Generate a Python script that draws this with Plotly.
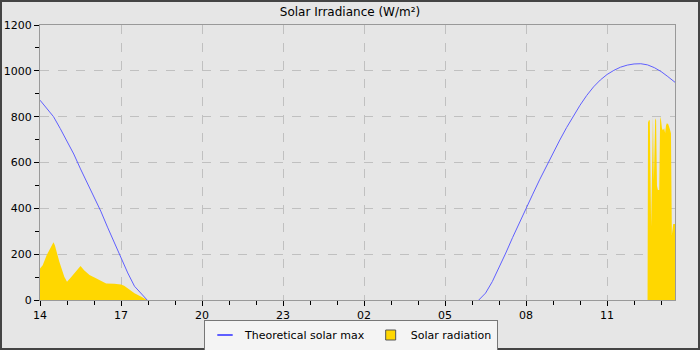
import plotly.graph_objects as go
import pandas as pd

D1 = "2024-06-01 "
D2 = "2024-06-02 "

# Theoretical solar max (W/m²)
theo_times = [D1 + t for t in ["14:00", "14:15", "14:30", "14:45", "15:00", "15:15", "15:30", "15:45",
                               "16:00", "16:15", "16:30", "16:45", "17:00", "17:15", "17:30", "17:45", "17:58"]] + \
             [None] + \
             [D2 + t for t in ["06:15", "06:30", "06:45", "07:00", "07:15", "07:30", "07:45", "08:00",
                               "08:15", "08:30", "08:45", "09:00", "09:15", "09:30", "09:45", "10:00",
                               "10:15", "10:30", "10:45", "11:00", "11:15", "11:30", "11:45", "12:00",
                               "12:15", "12:30", "12:45", "13:00", "13:15", "13:31"]]
theo_values = [872, 838, 800, 748, 695, 637, 572, 511,
               450, 388, 318, 250, 182, 118, 60, 28, 0] + \
              [None] + \
              [0, 30, 80, 140, 205, 272, 337, 400,
               462, 524, 584, 642, 698, 752, 803, 850,
               893, 930, 960, 984, 1002, 1016, 1025, 1030,
               1031, 1026, 1014, 997, 975, 950]

# Measured solar radiation (W/m²)
rad_times = [D1 + t for t in ["14:00", "14:06", "14:15", "14:24", "14:30", "14:33", "14:43", "14:54",
                              "15:00", "15:09", "15:20", "15:30", "15:38", "15:50", "16:00", "16:12",
                              "16:27", "16:45", "17:00", "17:07", "17:15", "17:30", "17:45", "17:58"]] + \
            [D2 + t for t in ["12:30", "12:31", "12:33", "12:35", "12:38", "12:40", "12:42", "12:44",
                              "12:47", "12:49", "12:51", "12:53", "12:56", "12:58", "13:00", "13:02",
                              "13:04", "13:07", "13:09", "13:11", "13:13", "13:16", "13:18", "13:20",
                              "13:22", "13:24", "13:27", "13:29", "13:31"]]
rad_values = [138, 152, 196, 232, 252, 239, 167, 101,
              80, 99, 123, 148, 130, 109, 99, 87,
              72, 71, 68, 62, 51, 29, 14, 0] + \
             [0, 775, 784, 784, 320, 541, 801, 520,
              793, 784, 497, 480, 480, 801, 784, 749,
              741, 749, 729, 762, 771, 767, 758, 743,
              728, 284, 332, 332, 332]

x_range = [D1 + "14:00", D2 + "13:31"]
y_ticks = [0, 200, 400, 600, 800, 1000, 1200]

BLUE = "#5f5fff"
GOLD = "#ffd700"
BG = "#e6e6e6"
FONT = "DejaVu Sans"

fig = go.Figure()
fig.add_trace(go.Scatter(
    x=pd.to_datetime(rad_times), y=rad_values, mode="lines",
    line=dict(color=GOLD, width=0), fill="tozeroy", fillcolor=GOLD,
    showlegend=False, hoverinfo="skip"))
fig.add_trace(go.Scatter(
    x=[pd.Timestamp(t) if t else None for t in theo_times], y=theo_values, mode="lines",
    line=dict(color=BLUE, width=1), connectgaps=False, showlegend=False))
# legend entries
fig.add_trace(go.Scatter(
    x=[None], y=[None], mode="markers", name="Theoretical solar max",
    marker=dict(symbol="line-ew", size=11, line=dict(color=BLUE, width=2))))
fig.add_trace(go.Scatter(
    x=[None], y=[None], mode="markers", name="Solar radiation",
    marker=dict(symbol="square", size=10, color=GOLD, line=dict(color="#555555", width=1))))

L, R, T, B = 40, 25, 25, 50
W, H = 700, 350
pw, ph = W - L - R, H - T - B


def px(xp):
    return (xp - L) / pw


def py(yp):
    return (H - B - yp) / ph


fig.update_layout(
    width=W, height=H,
    margin=dict(l=L, r=R, t=T, b=B, pad=0, autoexpand=False),
    paper_bgcolor=BG, plot_bgcolor=BG,
    font=dict(family=FONT, size=11, color="#000000"),
    title=dict(text="Solar Irradiance (W/m²)", x=0.5, xanchor="center",
               y=1 - 12 / H, yanchor="middle", font=dict(size=12, family=FONT)),
    legend=dict(orientation="h", x=px(351), xanchor="center", y=py(335), yanchor="middle",
                bgcolor="#f4f4f4", bordercolor="#777777", borderwidth=1,
                font=dict(size=11, family=FONT), itemwidth=30, tracegroupgap=0),
    shapes=[dict(type="rect", xref="paper", yref="paper",
                 x0=px(1), x1=px(699), y0=py(349), y1=py(1),
                 line=dict(color="#444444", width=2), fillcolor="rgba(0,0,0,0)", layer="above")],
)

fig.update_xaxes(
    type="date", range=pd.to_datetime(x_range),
    tickformat="%H", dtick=3 * 3600 * 1000, tick0=D1 + "14:00",
    ticks="outside", ticklen=5, tickcolor="#000000", tickwidth=1,
    showgrid=True, gridcolor="#c0c0c0", griddash="dash", gridwidth=1,
    showline=True, linecolor="#999999", linewidth=1, mirror=True,
    zeroline=False, tickfont=dict(size=11), automargin=False,
    minor=dict(dtick=3600 * 1000, ticks="outside", ticklen=4, tickcolor="#000000", showgrid=False),
)
fig.update_yaxes(
    range=[0, 1200], tickvals=y_ticks,
    ticks="outside", ticklen=5, tickcolor="#000000", tickwidth=1,
    showgrid=True, gridcolor="#c0c0c0", griddash="dash", gridwidth=1,
    showline=True, linecolor="#999999", linewidth=1, mirror=True,
    zeroline=False, tickfont=dict(size=11), automargin=False,
    minor=dict(dtick=100, tick0=0, ticks="outside", ticklen=4, tickcolor="#000000", showgrid=False),
)

fig.write_html("out.html")
